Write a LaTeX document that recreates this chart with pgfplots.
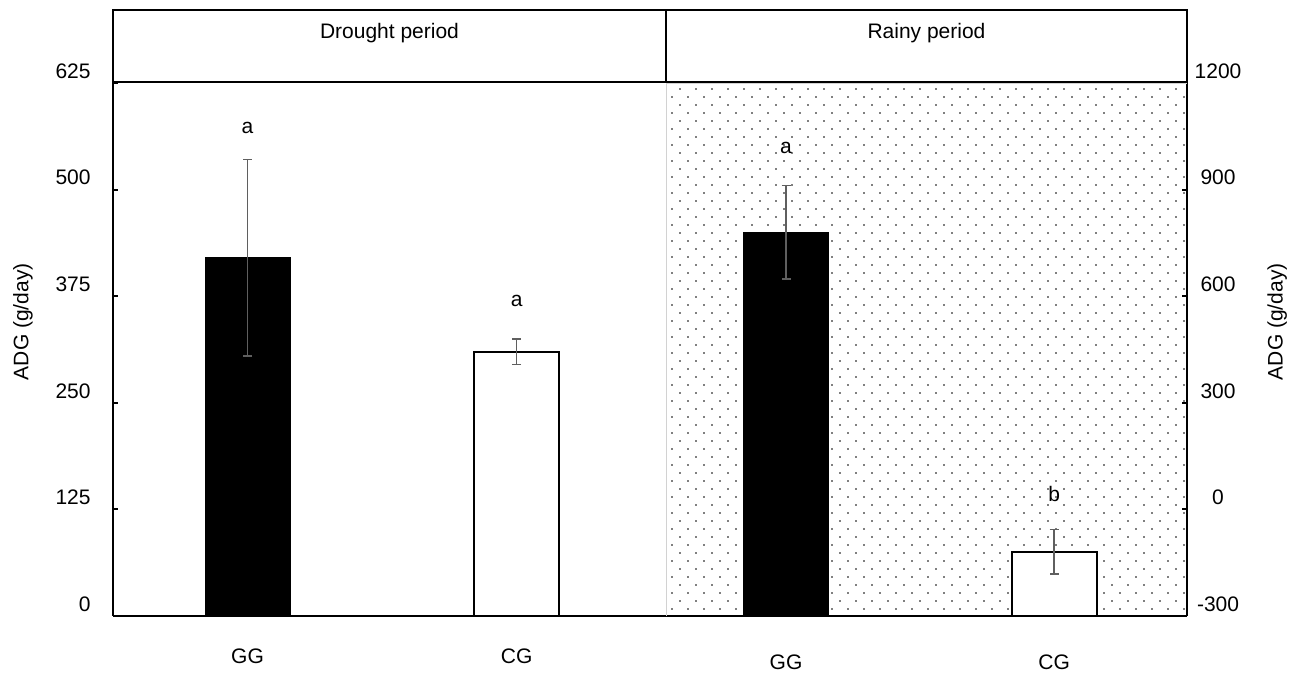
\documentclass[border=0pt]{standalone}
\usepackage{pgfplots}
\usepackage{pgfplotstable}
\pgfplotsset{compat=1.18}
\usepackage{fontspec}
\setmainfont{Liberation Sans}
\usetikzlibrary{patterns}
\pgfdeclarepatternformonly{sdots}{\pgfqpoint{-0.5pt}{-0.5pt}}{\pgfqpoint{7.5pt}{7.5pt}}{\pgfqpoint{8pt}{8pt}}{%
  \pgfpathrectangle{\pgfqpoint{-0.45pt}{-0.45pt}}{\pgfqpoint{0.9pt}{0.9pt}}%
  \pgfpathrectangle{\pgfqpoint{3.55pt}{3.55pt}}{\pgfqpoint{0.9pt}{0.9pt}}%
  \pgfusepath{fill}}
\definecolor{errgray}{HTML}{5F5F5F}
\definecolor{framegray}{HTML}{D2D2D2}
\definecolor{dotgray}{HTML}{808080}

% Drought period (g/day)
\pgfplotstableread{
x y e
0 420 115
}\droughtGG
\pgfplotstableread{
x y e
1 310 15
}\droughtCG
% Rainy period (g/day)
\pgfplotstableread{
x y e
0 780 132
}\rainyGG
\pgfplotstableread{
x y e
1 -119 63
}\rainyCG

\newcommand{\chartfont}{\fontsize{10.5}{12.6}\selectfont}

\pgfplotsset{
  barbase/.style={
    error bars/.cd, y dir=both, y explicit,
    error bar style={errgray, line width=0.75pt},
    error mark options={rotate=90, errgray, mark size=2.25pt, line width=0.75pt},
    /pgfplots/.cd, ybar, bar width=42.5pt, bar shift=0pt},
  common/.style={
    scale only axis, height=266.5pt, anchor=south west,
    font=\chartfont,
    tick label style={font=\chartfont},
    label style={font=\chartfont},
    /pgf/number format/assume math mode=true,
    axis line style={line width=1pt, black},
    xtick={0,1}, xticklabels={GG,CG},
    xtick style={draw=none},
    ytick style={line width=1pt, black},
    tick align=inside, major tick length=2.5pt,
  }
}

\begin{document}
\begin{tikzpicture}
\useasboundingbox (0,0) rectangle (649.5pt,336.5pt);

% ---- Drought period ----
\begin{axis}[common,
  at={(56.5pt,28.5pt)}, width=276.5pt,
  xmin=-0.5, xmax=1.555, ymin=0, ymax=625,
  axis x line*=bottom, axis y line*=left,
  ytick={0,125,250,375,500,625},
  yticklabel style={anchor=east, xshift=-11pt, yshift=6pt, inner sep=0pt},
  xticklabel style={anchor=center, yshift=-20pt},
  ylabel={ADG (g/day)},
  every axis y label/.style={at={(axis description cs:-0.163,0.552)}, rotate=90, anchor=center},
]
\addplot[barbase, fill=black, draw=black] table[x=x, y=y, y error=e] \droughtGG;
\addplot[barbase, fill=white, draw=black, line width=1pt] table[x=x, y=y, y error=e] \droughtCG;
\node at (axis cs:0,572) {a};
\node at (axis cs:1,370) {a};
\end{axis}

% ---- Rainy period (axis runs from -300; values plotted relative to -300) ----
\begin{axis}[common,
  at={(333pt,28.5pt)}, width=260.5pt,
  xmin=-0.448, xmax=1.496, ymin=0, ymax=1500,
  axis x line*=bottom, axis y line*=right,
  axis background/.style={pattern=sdots, pattern color=dotgray},
  ytick={0,300,600,900,1200,1500},
  yticklabels={-300,0,300,600,900,1200},
  yticklabel style={anchor=center, xshift=15.5pt, yshift=6pt, inner sep=0pt},
  xticklabel style={anchor=center, yshift=-23pt},
  ylabel={ADG (g/day)},
  every axis y label/.style={at={(axis description cs:1.173,0.552)}, rotate=90, anchor=center},
]
\draw[framegray, line width=1.2pt] (rel axis cs:0,0) -- (rel axis cs:0,1) -- (rel axis cs:1,1);
\addplot[barbase, fill=black, draw=black] table[x=x, y expr=\thisrow{y}+300, y error=e] \rainyGG;
\addplot[barbase, fill=white, draw=black, line width=1pt] table[x=x, y expr=\thisrow{y}+300, y error=e] \rainyCG;
\node at (axis cs:0,1317) {a};
\node at (axis cs:1,343) {b};
\end{axis}

% ---- panel headers ----
\draw[line width=1pt] (56.5pt,295.5pt) rectangle (333pt,331.5pt);
\draw[line width=1pt] (333pt,295.5pt) rectangle (593.5pt,331.5pt);
\node[font=\chartfont] at (194.75pt,320pt) {Drought period};
\node[font=\chartfont] at (463.25pt,320pt) {Rainy period};
\end{tikzpicture}
\end{document}
